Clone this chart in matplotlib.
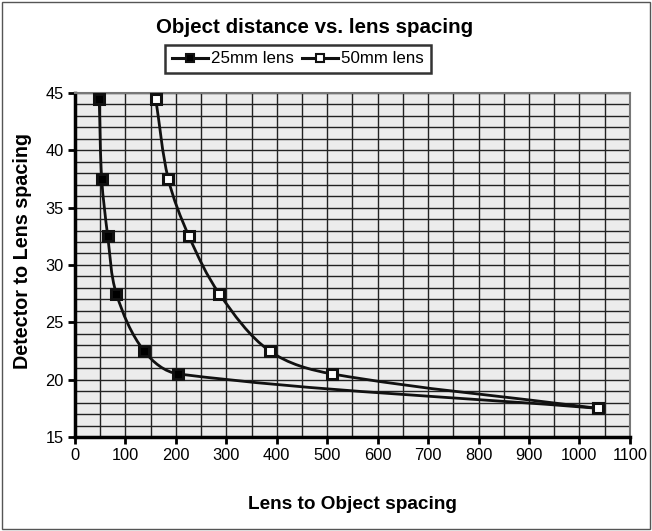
import numpy as np
import matplotlib
matplotlib.use("Agg")
import matplotlib.pyplot as plt
from matplotlib.path import Path
from matplotlib.patches import PathPatch, Rectangle
from matplotlib.lines import Line2D

plt.rcParams['font.family'] = ['Liberation Sans', 'DejaVu Sans']

# data
lens_to_object_25 = [48, 53, 65, 82, 137, 205, 1037]
lens_to_object_50 = [160, 185, 226, 286, 386, 510, 1037]
detector_to_lens = [44.5, 37.5, 32.5, 27.5, 22.5, 20.5, 17.5]
labels = ['25mm lens', '50mm lens']

XMAX, YMIN, YMAX = 1100, 15, 45


def smooth_path(x, y, sx, sy):
    # Excel style smoothed line, worked out in screen proportions
    p = np.column_stack([np.asarray(x, float) * sx, np.asarray(y, float) * sy])
    n = len(p)
    tang = []
    for i in range(n):
        d = p[min(i + 1, n - 1)] - p[max(i - 1, 0)]
        tang.append(d / np.hypot(*d))
    verts = [p[0]]
    codes = [Path.MOVETO]
    for i in range(n - 1):
        L = np.hypot(*(p[i + 1] - p[i])) / 3
        verts += [p[i] + tang[i] * L, p[i + 1] - tang[i + 1] * L, p[i + 1]]
        codes += [Path.CURVE4] * 3
    verts = np.array(verts) / [sx, sy]
    return Path(verts, codes)


fig = plt.figure(figsize=(6.52, 5.31), dpi=100)
fig.patches.append(Rectangle((0.003, 0.003), 0.994, 0.994, transform=fig.transFigure,
                             fill=False, edgecolor='#555555', lw=1))
ax = fig.add_axes([0.115, 0.177, 0.851, 0.648])
ax.set_facecolor('#ececec')
ax.set_xlim(0, XMAX)
ax.set_ylim(YMIN, YMAX)

ax.set_xticks(np.arange(0, XMAX + 1, 100))
ax.set_xticks(np.arange(0, XMAX + 1, 50), minor=True)
ax.set_yticks(np.arange(YMIN, YMAX + 1, 5))
ax.set_yticks(np.arange(YMIN, YMAX + 1, 1), minor=True)
ax.grid(which='both', color='#222222', lw=1)
ax.set_axisbelow(True)
ax.tick_params(which='minor', length=0)
ax.tick_params(which='major', direction='out', length=5, width=2, labelsize=11.8,
               color='black', pad=3)

for s in ['left', 'bottom']:
    ax.spines[s].set_linewidth(2.5)
    ax.spines[s].set_color('black')
for s in ['right', 'top']:
    ax.spines[s].set_linewidth(1.5)
    ax.spines[s].set_color('#777777')

sx = 555 / XMAX
sy = 344 / (YMAX - YMIN)
for xs, face in [(lens_to_object_25, 'black'), (lens_to_object_50, 'white')]:
    ax.add_patch(PathPatch(smooth_path(xs, detector_to_lens, sx, sy), fill=False,
                           edgecolor='#111111', lw=2, zorder=3))
    ax.plot(xs, detector_to_lens, ls='none', marker='s', ms=6.5, mfc=face,
            mec='#111111', mew=2.2, zorder=4, clip_on=False)

ax.set_xlabel('Lens to Object spacing', fontsize=13.7, fontweight='bold', labelpad=24)
ax.set_ylabel('Detector to Lens spacing', fontsize=14.2, fontweight='bold', labelpad=10)
ax.yaxis.set_label_coords(-0.077, 0.54)

fig.text(0.482, 0.949, 'Object distance vs. lens spacing', ha='center', va='center',
         fontsize=14.8, fontweight='bold')

handles = [Line2D([], [], color='#111111', lw=2.2, marker='s', ms=6, mfc='black', mec='#111111', mew=1.5),
           Line2D([], [], color='#111111', lw=2.2, marker='s', ms=6, mfc='white', mec='#111111', mew=1.5)]
leg = fig.legend(handles, labels, loc='center', bbox_to_anchor=(0.457, 0.889), ncol=2,
                 frameon=True, fancybox=False, fontsize=12.2, handlelength=2.1,
                 handletextpad=0.2, columnspacing=0.5, borderpad=0.4)
leg.get_frame().set_edgecolor('black')
leg.get_frame().set_linewidth(1.8)

fig.savefig('out.png', dpi=100)
